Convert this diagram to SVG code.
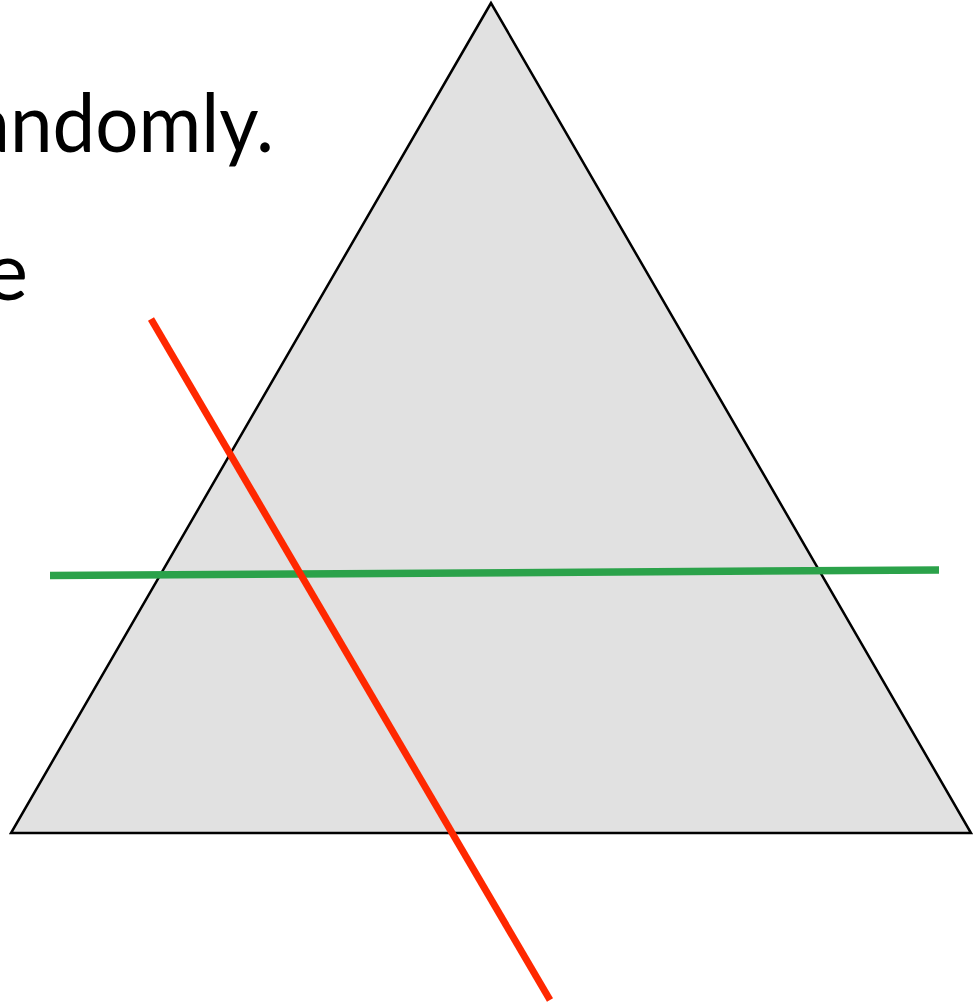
<svg xmlns="http://www.w3.org/2000/svg" width="974" height="1007" viewBox="0 0 974 1007">
<style>
.t{font-family:Lato,"Open Sans","Liberation Sans",sans-serif;font-size:82px;fill:#000}
</style>
<rect width="974" height="1007" fill="#fff"/>
<g id="text">
<text class="t" x="-28" y="152" textLength="302" lengthAdjust="spacingAndGlyphs">andomly.</text>
<text class="t" x="28" y="300" text-anchor="end">e</text>
</g>
<g id="triangle">
<polygon points="491,3 11,833 971,833" fill="#e1e1e1" stroke="#000" stroke-width="2.5" stroke-linejoin="miter"/>
</g>
<g id="connectors">
<line x1="50" y1="575.5" x2="939" y2="570" stroke="#2ba24a" stroke-width="7.5"/>
<line x1="151" y1="319" x2="550" y2="1000" stroke="#ff2800" stroke-width="7"/>
</g>
</svg>
